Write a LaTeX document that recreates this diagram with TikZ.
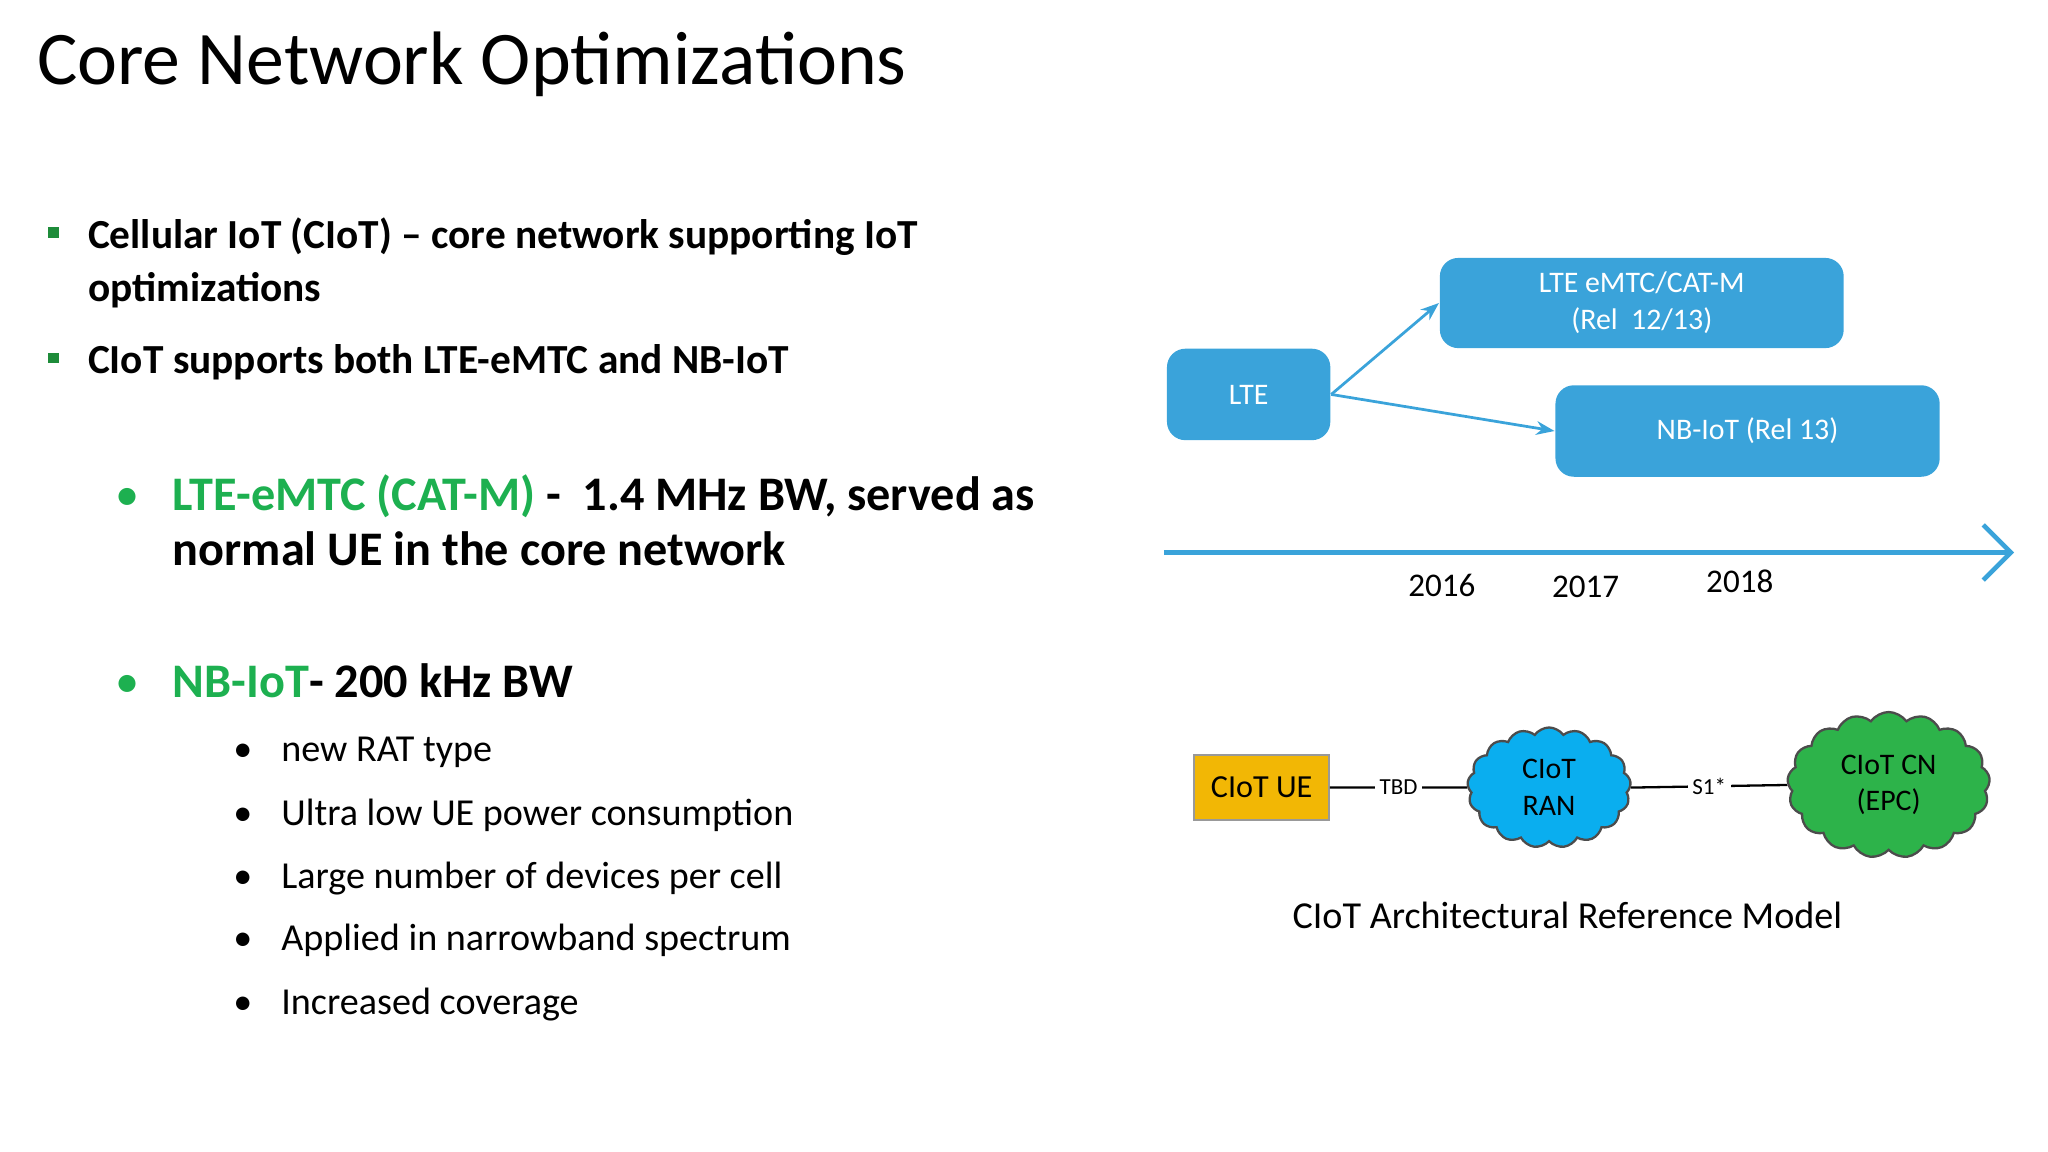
\documentclass[tikz,border=0pt]{standalone}
\usepackage{fontspec}
\setmainfont{Carlito}
\usetikzlibrary{shapes.symbols,arrows.meta}
\definecolor{boxblue}{HTML}{3AA3DA}
\definecolor{gtxt}{HTML}{1DB050}
\definecolor{sqg}{HTML}{1E8C3A}
\definecolor{ueor}{HTML}{F2B705}
\definecolor{ranb}{HTML}{0AAEEF}
\definecolor{cng}{HTML}{2DB34A}
\begin{document}
\begin{tikzpicture}[x=0.01cm,y=-0.01cm,
  bx/.style={fill=boxblue,draw=none,rounded corners=4pt,text=white,font=\fontsize{6.5}{8}\selectfont,align=center,inner sep=0},
  cl/.style={cloud,cloud puffs=17,cloud puff arc=110,draw=black!70,line width=0.5pt,align=center,font=\fontsize{6.5}{8}\selectfont,inner sep=0},
  b1/.style={anchor=base west,font=\fontsize{9}{11.5}\selectfont\bfseries,align=left},
  b2/.style={anchor=base west,font=\fontsize{10.5}{12}\selectfont\bfseries,align=left},
  b3/.style={anchor=base west,font=\fontsize{8.3}{10}\selectfont},
  ln/.style={draw=boxblue,line width=0.6pt,-{Stealth[length=4pt]}}]
\useasboundingbox (0,0) rectangle (1568,882);
\node[anchor=base west,font=\fontsize{16.5}{20}\selectfont] (title) at (16,65) {Core Network Optimizations};
% bullets
\node[fill=sqg,minimum size=0.08cm,inner sep=0] (s1) at (41,178) {};
\node[b1] (t1) at (55,190) {Cellular IoT (CIoT) – core network supporting IoT};
\node[b1] (t1b) at (55,231) {optimizations};
\node[fill=sqg,minimum size=0.08cm,inner sep=0] (s2) at (41,274) {};
\node[b1] (t2) at (55,286) {CIoT supports both LTE-eMTC and NB-IoT};
\node[anchor=base,text=gtxt,font=\fontsize{10.5}{12}\selectfont] (g1) at (98,391) {•};
\node[b2] (t3) at (120,391) {\textcolor{gtxt}{LTE-eMTC (CAT-M)} -\ \ 1.4 MHz BW, served as};
\node[b2] (t3b) at (120,433) {normal UE in the core network};
\node[anchor=base,text=gtxt,font=\fontsize{10.5}{12}\selectfont] (g2) at (98,534) {•};
\node[b2] (t4) at (120,534) {\textcolor{gtxt}{NB-IoT}- 200 kHz BW};
\foreach \y/\t [count=\i] in {583/new RAT type,632/Ultra low UE power consumption,680/Large number of devices per cell,728/Applied in narrowband spectrum,777/Increased coverage}{
  \node[anchor=base,font=\fontsize{8.3}{10}\selectfont] (d\i) at (186,\y) {•};
  \node[b3] (s\i) at (203,\y) {\t};
}
% timeline diagram
\node[bx,minimum width=1.25cm,minimum height=0.7cm] (lte) at (956,302) {LTE};
\node[bx,minimum width=3.09cm,minimum height=0.69cm] (emtc) at (1257,232) {LTE eMTC/CAT-M\\(Rel\ \ 12/13)};
\node[bx,minimum width=2.94cm,minimum height=0.7cm] (nb) at (1338,330) {NB-IoT (Rel 13)};
\draw[ln] (lte.east) -- (emtc.west);
\draw[ln] (lte.east) -- (nb.west);
\coordinate (ta) at (891,423);
\coordinate (tb) at (1542,423);
\draw[draw=boxblue,line width=1pt,-{Straight Barb[length=6pt]}] (ta) -- (tb);
\node[font=\fontsize{7.2}{9}\selectfont] (y1) at (1104,448) {2016};
\node[font=\fontsize{7.2}{9}\selectfont] (y2) at (1214,449) {2017};
\node[font=\fontsize{7.2}{9}\selectfont] (y3) at (1332,445) {2018};
% architecture
\node[fill=ueor,draw=black!40,minimum width=1.03cm,minimum height=0.5cm,inner sep=0,font=\fontsize{7}{8}\selectfont] (ue) at (966,603) {CIoT UE};
\node[cl,fill=ranb,minimum width=1.25cm,minimum height=0.92cm] (ran) at (1186,603) {CIoT\\RAN};
\node[cl,fill=cng,minimum width=1.55cm,minimum height=0.92cm] (cn) at (1446,601) {CIoT CN\\(EPC)};
\draw[line width=0.5pt] (ue.east) -- node[fill=white,inner sep=1pt,font=\fontsize{5}{6}\selectfont]{TBD} (ran.west);
\draw[line width=0.5pt] (ran.east) -- node[fill=white,inner sep=1pt,font=\fontsize{5}{6}\selectfont]{S1*} (cn.west);
\node[font=\fontsize{8.3}{10}\selectfont] (cap) at (1200,701) {CIoT Architectural Reference Model};
\end{tikzpicture}
\end{document}
